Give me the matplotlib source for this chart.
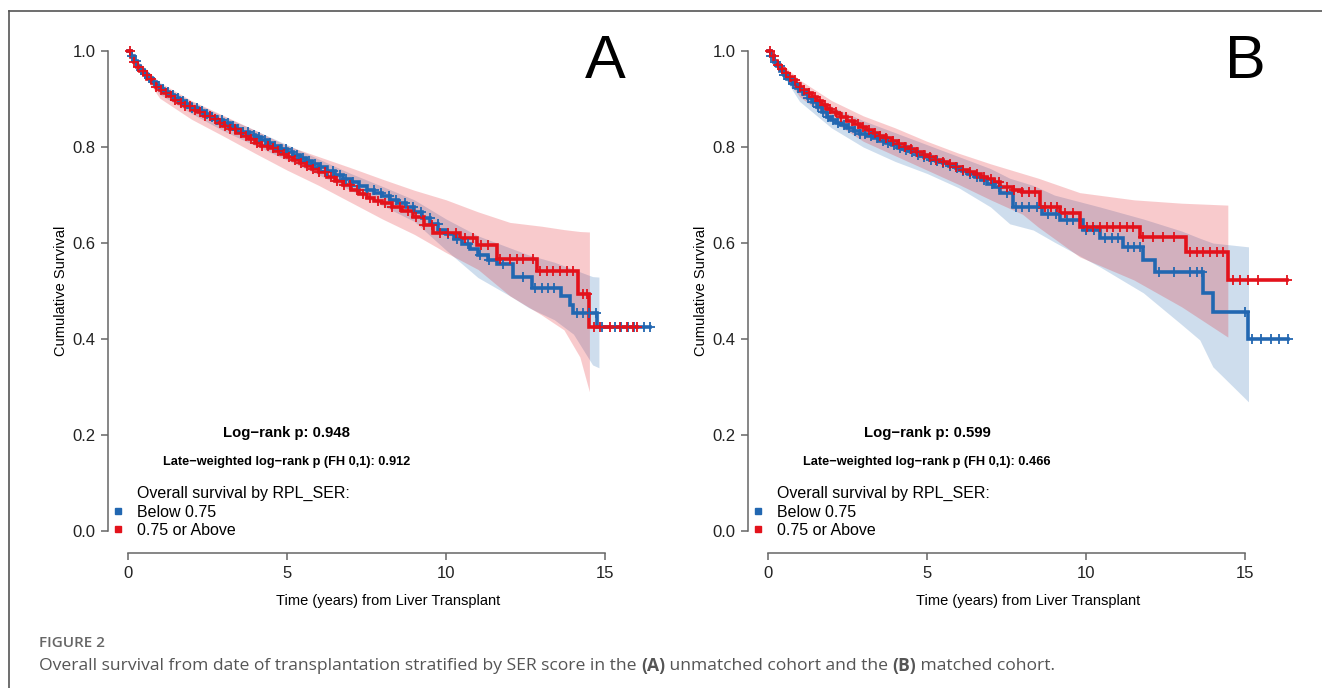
import numpy as np
import matplotlib.pyplot as plt
from matplotlib.lines import Line2D

plt.rcParams['font.family'] = ['Liberation Sans', 'DejaVu Sans']

BLUE = '#2267b1'
RED = '#e3121b'
AXIS_GREY = '#666666'

groups = ['Below 0.75', '0.75 or Above']

# ---- panel A: unmatched cohort ----
a_blue_t = [0, 0.1, 0.2, 0.3, 0.4, 0.5, 0.62, 0.75, 0.88, 1.0, 1.15, 1.3, 1.45, 1.6, 1.8, 2.0, 2.2,
            2.4, 2.6, 2.8, 3.0, 3.2, 3.4, 3.6, 3.8, 4.0, 4.2, 4.4, 4.6, 4.8, 5.0, 5.2, 5.4, 5.6, 5.8,
            6.0, 6.25, 6.5, 6.75, 7.0, 7.25, 7.5, 7.75, 8.0, 8.25, 8.5, 8.75, 9.0, 9.25, 9.5, 9.75,
            10.0, 10.25, 10.5, 10.75, 11.0, 11.3, 11.6, 12.1, 12.7, 13.6, 13.9, 14.0, 14.75]
a_blue_s = [1.0, 0.99, 0.979, 0.969, 0.96, 0.952, 0.944, 0.936, 0.928, 0.921, 0.915, 0.909, 0.902,
            0.896, 0.889, 0.882, 0.876, 0.869, 0.863, 0.857, 0.85, 0.844, 0.838, 0.832, 0.826, 0.82,
            0.814, 0.808, 0.802, 0.796, 0.79, 0.784, 0.778, 0.771, 0.765, 0.758, 0.75, 0.742, 0.734,
            0.727, 0.719, 0.711, 0.704, 0.698, 0.69, 0.683, 0.675, 0.665, 0.652, 0.64, 0.628, 0.618,
            0.608, 0.598, 0.587, 0.575, 0.565, 0.556, 0.53, 0.506, 0.49, 0.47, 0.454, 0.425]
a_blue_end = 16.4
a_red_t = [0, 0.1, 0.2, 0.3, 0.4, 0.5, 0.62, 0.75, 0.88, 1.0, 1.15, 1.3, 1.45, 1.6, 1.8, 2.0, 2.2,
           2.4, 2.6, 2.8, 3.0, 3.2, 3.4, 3.6, 3.8, 4.0, 4.2, 4.4, 4.6, 4.8, 5.0, 5.2, 5.4, 5.6, 5.8,
           6.0, 6.25, 6.5, 6.75, 7.0, 7.25, 7.5, 7.75, 8.0, 8.3, 8.6, 8.95, 9.3, 9.6, 10.45, 10.97,
           11.6, 12.86, 14.15, 14.5]
a_red_s = [1.0, 0.988, 0.977, 0.967, 0.958, 0.95, 0.942, 0.934, 0.926, 0.918, 0.912, 0.906, 0.899,
           0.892, 0.885, 0.878, 0.872, 0.865, 0.858, 0.851, 0.844, 0.837, 0.83, 0.823, 0.816, 0.809,
           0.803, 0.797, 0.791, 0.785, 0.779, 0.773, 0.767, 0.761, 0.754, 0.747, 0.738, 0.729, 0.72,
           0.711, 0.702, 0.694, 0.688, 0.684, 0.676, 0.666, 0.654, 0.638, 0.621, 0.61, 0.596, 0.567,
           0.542, 0.494, 0.425]
a_red_end = 16.0

a_blue_ci_t = [0, 1, 2, 3, 4, 5, 6, 7, 8, 9, 10, 11, 12, 12.6, 13.4, 14.0, 14.6, 14.8]
a_blue_ci_lo = [1.0, 0.91, 0.87, 0.834, 0.803, 0.773, 0.742, 0.71, 0.678, 0.645, 0.585, 0.528, 0.49,
                0.465, 0.44, 0.41, 0.346, 0.34]
a_blue_ci_hi = [1.0, 0.93, 0.895, 0.864, 0.835, 0.805, 0.775, 0.745, 0.718, 0.69, 0.65, 0.615, 0.59,
                0.575, 0.56, 0.545, 0.53, 0.529]
a_red_ci_t = [0, 1, 2, 3, 4, 5, 6, 7, 8, 9, 10, 11, 12, 13, 13.7, 14.2, 14.5]
a_red_ci_lo = [1.0, 0.902, 0.858, 0.823, 0.787, 0.752, 0.72, 0.685, 0.65, 0.618, 0.58, 0.545, 0.49,
               0.45, 0.419, 0.3625, 0.29]
a_red_ci_hi = [1.0, 0.935, 0.897, 0.866, 0.835, 0.803, 0.78, 0.757, 0.733, 0.71, 0.69, 0.665, 0.643,
               0.635, 0.628, 0.624, 0.623]

a_blue_cens = [0.12, 0.27, 0.41, 0.55, 0.68, 0.83, 0.97, 1.12, 1.28, 1.41, 1.57, 1.73, 1.86, 2.03,
               2.18, 2.34, 2.49, 2.66, 2.81, 2.97, 3.14, 3.3, 3.47, 3.62, 3.79, 3.95, 4.12, 4.3, 4.46,
               4.63, 4.8, 4.97, 5.15, 5.33, 5.52, 5.7, 5.89, 6.07, 6.26, 6.45, 6.66, 6.85, 7.06, 7.27,
               7.5, 7.72, 7.95, 8.2, 8.43, 8.7, 8.95, 9.2, 9.48, 9.74, 10.05, 10.35, 10.7, 11.05,
               11.35, 11.8, 12.4, 12.8, 13.0, 13.2, 13.4, 14.1, 14.3, 14.5, 14.7, 14.9, 15.3, 15.5,
               15.7, 15.9, 16.2, 16.4]
a_red_cens = [0.08, 0.2, 0.33, 0.47, 0.6, 0.74, 0.9, 1.04, 1.19, 1.35, 1.5, 1.66, 1.8, 1.96, 2.11,
              2.27, 2.42, 2.58, 2.74, 2.9, 3.06, 3.22, 3.38, 3.55, 3.71, 3.88, 4.05, 4.22, 4.39, 4.56,
              4.73, 4.9, 5.08, 5.26, 5.44, 5.62, 5.81, 6.0, 6.19, 6.38, 6.58, 6.78, 6.98, 7.19, 7.4,
              7.62, 7.85, 8.08, 8.3, 8.55, 8.8, 9.05, 9.3, 9.55, 9.8, 10.05, 10.3, 10.6, 10.85, 11.1,
              11.3, 11.7, 12.0, 12.22, 12.43, 12.74, 12.96, 13.17, 13.37, 13.58, 13.8, 14.0, 14.31,
              14.42, 14.63, 14.84, 15.16, 15.47, 15.68, 15.88, 16.0]

# ---- panel B: matched cohort ----
b_blue_t = [0, 0.1, 0.2, 0.3, 0.4, 0.5, 0.62, 0.75, 0.88, 1.0, 1.12, 1.25, 1.4, 1.55, 1.7, 1.85, 2.0,
            2.15, 2.3, 2.5, 2.7, 2.9, 3.1, 3.3, 3.5, 3.7, 3.9, 4.1, 4.3, 4.5, 4.7, 4.9, 5.1, 5.3, 5.5,
            5.7, 5.9, 6.1, 6.3, 6.5, 6.7, 6.9, 7.1, 7.3, 7.7, 8.6, 9.18, 9.9, 10.44, 11.16, 11.8,
            12.16, 13.67, 13.98, 15.08]
b_blue_s = [1.0, 0.989, 0.978, 0.968, 0.959, 0.95, 0.941, 0.932, 0.924, 0.916, 0.91, 0.903, 0.893,
            0.883, 0.873, 0.863, 0.856, 0.851, 0.846, 0.84, 0.834, 0.828, 0.823, 0.818, 0.813, 0.808,
            0.804, 0.799, 0.794, 0.789, 0.784, 0.779, 0.774, 0.77, 0.766, 0.761, 0.756, 0.75, 0.744,
            0.738, 0.732, 0.724, 0.716, 0.704, 0.675, 0.66, 0.648, 0.627, 0.61, 0.592, 0.565, 0.54,
            0.496, 0.456, 0.40]
b_blue_end = 16.33
b_red_t = [0, 0.1, 0.2, 0.3, 0.4, 0.5, 0.62, 0.75, 0.88, 1.0, 1.12, 1.25, 1.4, 1.55, 1.7, 1.85, 2.0,
           2.15, 2.3, 2.5, 2.7, 2.9, 3.1, 3.3, 3.5, 3.7, 3.9, 4.1, 4.3, 4.5, 4.7, 4.9, 5.1, 5.3, 5.5,
           5.7, 5.9, 6.1, 6.3, 6.5, 6.7, 6.9, 7.1, 7.3, 7.7, 8.0, 8.56, 9.18, 9.8, 11.7, 13.15, 14.45]
b_red_s = [1.0, 0.99, 0.98, 0.971, 0.962, 0.954, 0.946, 0.939, 0.932, 0.925, 0.919, 0.912, 0.904,
           0.896, 0.888, 0.88, 0.874, 0.868, 0.862, 0.855, 0.848, 0.842, 0.836, 0.83, 0.824, 0.818,
           0.812, 0.806, 0.8, 0.795, 0.789, 0.784, 0.779, 0.774, 0.769, 0.764, 0.758, 0.753, 0.748,
           0.743, 0.738, 0.733, 0.727, 0.717, 0.711, 0.706, 0.675, 0.6625, 0.633, 0.6125, 0.581,
           0.523]
b_red_end = 16.3

b_blue_ci_t = [0, 1, 2, 3, 4, 5, 6, 7, 7.6, 8.34, 9.0, 10.44, 11.8, 13.0, 13.57, 13.98, 15.1]
b_blue_ci_lo = [1.0, 0.895, 0.84, 0.8, 0.77, 0.745, 0.715, 0.675, 0.64, 0.627, 0.602, 0.55, 0.496,
                0.43, 0.398, 0.342, 0.269]
b_blue_ci_hi = [1.0, 0.93, 0.885, 0.855, 0.83, 0.805, 0.78, 0.755, 0.735, 0.72, 0.70, 0.675, 0.65,
                0.625, 0.61, 0.60, 0.592]
b_red_ci_t = [0, 1, 2, 3, 4, 5, 6, 7, 8, 8.5, 9.8, 11.5, 13.0, 14.45]
b_red_ci_lo = [1.0, 0.905, 0.855, 0.812, 0.782, 0.752, 0.722, 0.69, 0.66, 0.633, 0.571, 0.523, 0.467,
               0.404]
b_red_ci_hi = [1.0, 0.94, 0.897, 0.865, 0.84, 0.812, 0.787, 0.765, 0.745, 0.735, 0.705, 0.69, 0.683,
               0.679]

b_blue_cens = [0.1, 0.24, 0.38, 0.52, 0.66, 0.8, 0.95, 1.1, 1.26, 1.42, 1.58, 1.74, 1.9, 2.06, 2.22,
               2.39, 2.56, 2.73, 2.9, 3.07, 3.25, 3.43, 3.61, 3.79, 3.97, 4.16, 4.35, 4.54, 4.73,
               4.92, 5.12, 5.32, 5.52, 5.72, 5.93, 6.14, 6.35, 6.57, 6.8, 7.03, 7.25, 7.5, 7.8, 8.0,
               8.2, 8.45, 8.8, 9.05, 9.4, 9.6, 10.0, 10.25, 10.6, 10.8, 11.0, 11.3, 11.5, 11.7,
               12.3, 12.75, 13.26, 13.48, 13.63, 14.98, 15.2, 15.5, 15.8, 16.05, 16.33]
b_red_cens = [0.07, 0.19, 0.31, 0.44, 0.57, 0.71, 0.86, 1.0, 1.15, 1.31, 1.47, 1.63, 1.79, 1.96,
              2.13, 2.3, 2.47, 2.64, 2.82, 3.0, 3.18, 3.36, 3.54, 3.73, 3.92, 4.11, 4.3, 4.5, 4.7,
              4.9, 5.1, 5.3, 5.5, 5.71, 5.92, 6.13, 6.35, 6.57, 6.79, 7.02, 7.25, 7.5, 7.75, 8.0,
              8.2, 8.4, 8.7, 8.9, 9.1, 9.35, 9.6, 10.03, 10.22, 10.44, 10.66, 10.85, 11.07, 11.29,
              11.47, 11.8, 12.1, 12.4, 12.75, 13.26, 13.48, 13.67, 13.89, 14.1, 14.3, 14.6, 14.83,
              15.08, 15.4, 16.3]

panels = [
    dict(label='A', p1='0.948', p2='0.912',
         blue=(a_blue_t, a_blue_s, a_blue_end, a_blue_cens, a_blue_ci_t, a_blue_ci_lo, a_blue_ci_hi),
         red=(a_red_t, a_red_s, a_red_end, a_red_cens, a_red_ci_t, a_red_ci_lo, a_red_ci_hi)),
    dict(label='B', p1='0.599', p2='0.466',
         blue=(b_blue_t, b_blue_s, b_blue_end, b_blue_cens, b_blue_ci_t, b_blue_ci_lo, b_blue_ci_hi),
         red=(b_red_t, b_red_s, b_red_end, b_red_cens, b_red_ci_t, b_red_ci_lo, b_red_ci_hi)),
]


def km(ax, data, color):
    t, s, end, cens, ci_t, ci_lo, ci_hi = data
    ax.fill_between(ci_t, ci_lo, ci_hi, color=color, alpha=0.22, lw=0, zorder=1)
    tt = np.append(t, end)
    ss = np.append(s, s[-1])
    ax.step(tt, ss, where='post', color=color, lw=2.6, zorder=3, solid_joinstyle='miter')
    idx = np.searchsorted(t, cens, side='right') - 1
    ax.plot(cens, np.array(s)[idx], ls='none', marker='+', ms=6.5, mew=1.3, color=color, zorder=4)


W, H = 1322, 688
fig = plt.figure(figsize=(W / 100, H / 100), dpi=100)

for i, p in enumerate(panels):
    left_px = 108 if i == 0 else 748
    ax = fig.add_axes([left_px / W, 135 / H, 561 / W, 524 / H])
    km(ax, p['blue'], BLUE)
    km(ax, p['red'], RED)

    ax.set_xlim(-0.62, 17.0)
    ax.set_ylim(-0.046, 1.046)
    for side in ['top', 'right']:
        ax.spines[side].set_visible(False)
    ax.spines['left'].set_bounds(0, 1)
    ax.spines['bottom'].set_bounds(0, 15)
    for side in ['left', 'bottom']:
        ax.spines[side].set_color(AXIS_GREY)
        ax.spines[side].set_linewidth(1.1)
    ax.set_xticks([0, 5, 10, 15])
    ax.set_yticks([0.0, 0.2, 0.4, 0.6, 0.8, 1.0])
    ax.set_yticklabels(['0.0', '0.2', '0.4', '0.6', '0.8', '1.0'])
    ax.tick_params(length=5, width=1.1, color=AXIS_GREY, labelsize=12, labelcolor='#222222', pad=4)
    ax.set_xlabel('Time (years) from Liver Transplant', fontsize=10.5, labelpad=10)
    ax.set_ylabel('Cumulative Survival', fontsize=10.5, labelpad=3)

    ax.text(15.0, 0.977, p['label'], fontsize=44, ha='center', va='center')
    ax.text(5.0, 0.204, 'Log\u2212rank p: ' + p['p1'], fontsize=10.7, fontweight='bold',
            ha='center', va='center')
    ax.text(5.0, 0.144, 'Late\u2212weighted log\u2212rank p (FH 0,1): ' + p['p2'], fontsize=9.2,
            fontweight='bold', ha='center', va='center')
    ax.text(0.28, 0.079, 'Overall survival by RPL_SER:', fontsize=11.5, ha='left', va='center')
    handles = [Line2D([], [], ls='none', marker='s', ms=4.5, color=c) for c in (BLUE, RED)]
    ax.legend(handles, groups, loc='center left', bbox_to_anchor=(-0.5, 0.02),
              bbox_transform=ax.transData, frameon=False, fontsize=11.5, handlelength=0.8,
              handletextpad=0.75, labelspacing=0.22, borderpad=0.0, borderaxespad=0.0)

# figure frame (top and left edges of the panel box)
fig.add_artist(Line2D([9 / W, 9 / W], [0, 1 - 11 / H], color='#555555', lw=1.2))
fig.add_artist(Line2D([9 / W, 1], [1 - 11 / H, 1 - 11 / H], color='#555555', lw=1.2))

fig.text(39 / W, 1 - 643 / H, 'FIGURE 2', fontsize=11, color='#666666', fontweight='semibold',
         family='Open Sans', va='center')

caption_parts = [
    ('Overall survival from date of transplantation stratified by SER score in the ', 'normal'),
    ('(A)', 'bold'),
    (' unmatched cohort and the ', 'normal'),
    ('(B)', 'bold'),
    (' matched cohort.', 'normal'),
]
renderer = fig.canvas.get_renderer()
x = 39 / W
for txt, wt in caption_parts:
    t = fig.text(x, 1 - 666 / H, txt, fontsize=12.6, color='#555555', family='Open Sans',
                 fontweight=wt, va='center')
    x = t.get_window_extent(renderer).x1 / W

fig.savefig('out.png', dpi=100)
